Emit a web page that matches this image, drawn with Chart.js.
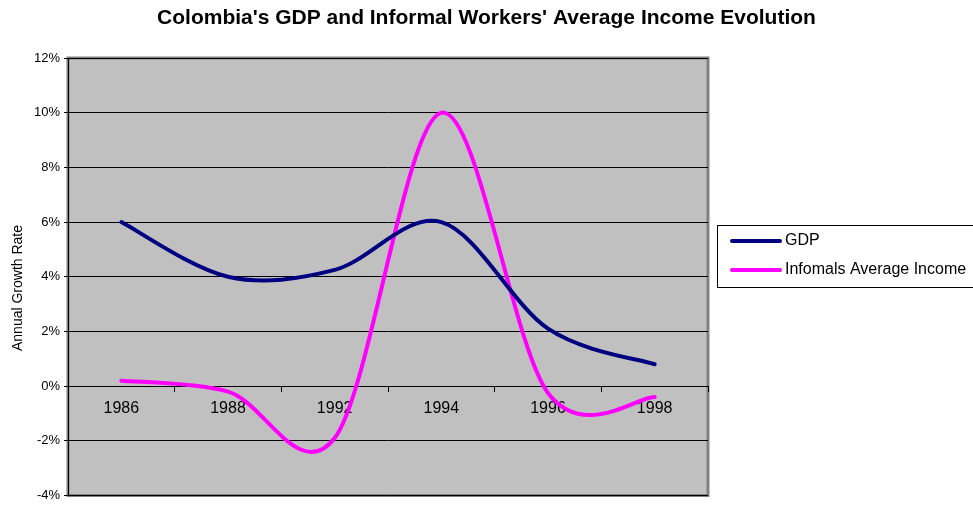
<!DOCTYPE html>
<html>
<head>
<meta charset="utf-8">
<script src="https://cdn.jsdelivr.net/npm/chart.js@4.4.1/dist/chart.umd.min.js"></script>
<style>
  html, body { margin: 0; padding: 0; background: #fff; }
  #wrap { width: 973px; height: 506px; position: relative; }
</style>
</head>
<body>
<div id="wrap"><canvas id="chart"></canvas></div>
<script>
  // x categories (the source series has no 1990 point)
  const years = ['1986', '1988', '1992', '1994', '1996', '1998'];
  // annual growth rates, %
  const gdp = [6.0, 4.0, 4.25, 6.0, 2.1, 0.8];
  const informalIncome = [0.2, -0.2, -1.9, 10.0, -0.25, -0.4];
  // y axis ticks, %
  const yTicks = [-4, -2, 0, 2, 4, 6, 8, 10, 12];

  const titleText = "Colombia's GDP and Informal Workers' Average Income Evolution";
  const yTitleText = 'Annual Growth Rate';
  const FONT = "'Liberation Sans', Arial, sans-serif";

  // spreadsheet-style smoothing: catmull-rom control points (1/6 of the
  // neighbour chord) instead of chart.js's distance-weighted ones
  const smoothLines = {
    id: 'smoothLines',
    beforeDatasetDraw(chart, args) {
      const line = args.meta.dataset;
      const pts = args.meta.data;
      if (!line || !pts.length) return;
      line.updateControlPoints(chart.chartArea, 'x');
      pts.forEach((p, i) => {
        const prev = pts[Math.max(i - 1, 0)];
        const next = pts[Math.min(i + 1, pts.length - 1)];
        const dx = (next.x - prev.x) / 6;
        const dy = (next.y - prev.y) / 6;
        p.cp1x = p.x - dx; p.cp1y = p.y - dy;
        p.cp2x = p.x + dx; p.cp2y = p.y + dy;
      });
      line._path = undefined;
    }
  };

  // plot background, title, y title and the boxed legend on the right
  const frame = {
    id: 'frame',
    beforeDraw(chart) {
      const { ctx, chartArea: a } = chart;
      ctx.save();
      ctx.fillStyle = '#c0c0c0';
      ctx.fillRect(a.left, a.top, a.right - a.left, a.bottom - a.top);
      ctx.strokeStyle = '#808080';
      ctx.lineWidth = 3;
      ctx.strokeRect(a.left, a.top, a.right - a.left, a.bottom - a.top);
      ctx.restore();
    },
    afterDraw(chart) {
      const { ctx } = chart;
      ctx.save();
      ctx.fillStyle = '#000';
      ctx.textBaseline = 'middle';

      ctx.font = 'bold 21px ' + FONT;
      ctx.textAlign = 'center';
      ctx.fillText(titleText, chart.width / 2, 18);

      ctx.save();
      ctx.font = '14px ' + FONT;
      ctx.translate(18, 288);
      ctx.rotate(-Math.PI / 2);
      ctx.fillText(yTitleText, 0, 0);
      ctx.restore();

      // legend
      ctx.strokeStyle = '#000';
      ctx.lineWidth = 1;
      ctx.strokeRect(717.5, 225.5, 262, 62);
      ctx.font = '16px ' + FONT;
      ctx.textAlign = 'left';
      chart.data.datasets.forEach((ds, i) => {
        const y = 241 + i * 29;
        ctx.beginPath();
        ctx.strokeStyle = ds.borderColor;
        ctx.lineWidth = 4;
        ctx.lineCap = 'round';
        ctx.moveTo(732, y);
        ctx.lineTo(780, y);
        ctx.stroke();
        ctx.fillStyle = '#000';
        ctx.fillText(ds.label, 785, y);
      });
      ctx.restore();
    }
  };

  new Chart(document.getElementById('chart'), {
    type: 'line',
    data: {
      labels: years,
      datasets: [
        {
          label: 'GDP',
          data: gdp,
          borderColor: '#000080',
          borderWidth: 4,
          borderCapStyle: 'round',
          borderJoinStyle: 'round',
          pointRadius: 0,
          tension: 0.4,
        },
        {
          label: 'Infomals Average Income',
          data: informalIncome,
          borderColor: '#ff00ff',
          borderWidth: 4,
          borderCapStyle: 'round',
          borderJoinStyle: 'round',
          pointRadius: 0,
          tension: 0.4,
        },
      ],
    },
    options: {
      responsive: true,
      maintainAspectRatio: false,
      animation: false,
      layout: { padding: { left: 0, top: 58, right: 265, bottom: 6 } },
      plugins: {
        legend: { display: false },
        title: { display: false },
        tooltip: { enabled: false },
      },
      scales: {
        x: {
          position: { y: 0 },
          offset: true,
          grid: { offset: true, drawOnChartArea: false, drawTicks: true, tickLength: 5, color: '#000' },
          border: { display: true, color: '#000', width: 1 },
          ticks: {
            autoSkip: false, maxRotation: 0, padding: 8,
            color: '#000', font: { family: FONT, size: 16 },
          },
        },
        y: {
          min: yTicks[0],
          max: yTicks[yTicks.length - 1],
          afterFit: s => { s.width = 68; },
          afterBuildTicks: s => { s.ticks = yTicks.map(v => ({ value: v })); },
          grid: { color: '#000', lineWidth: 1, drawTicks: true, tickLength: 4 },
          border: { display: true, color: '#000', width: 1 },
          ticks: {
            padding: 4,
            color: '#000',
            font: { family: FONT, size: 13, lineHeight: 1 },
            callback: v => v + '%',
          },
        },
      },
    },
    plugins: [smoothLines, frame],
  });
</script>
</body>
</html>
